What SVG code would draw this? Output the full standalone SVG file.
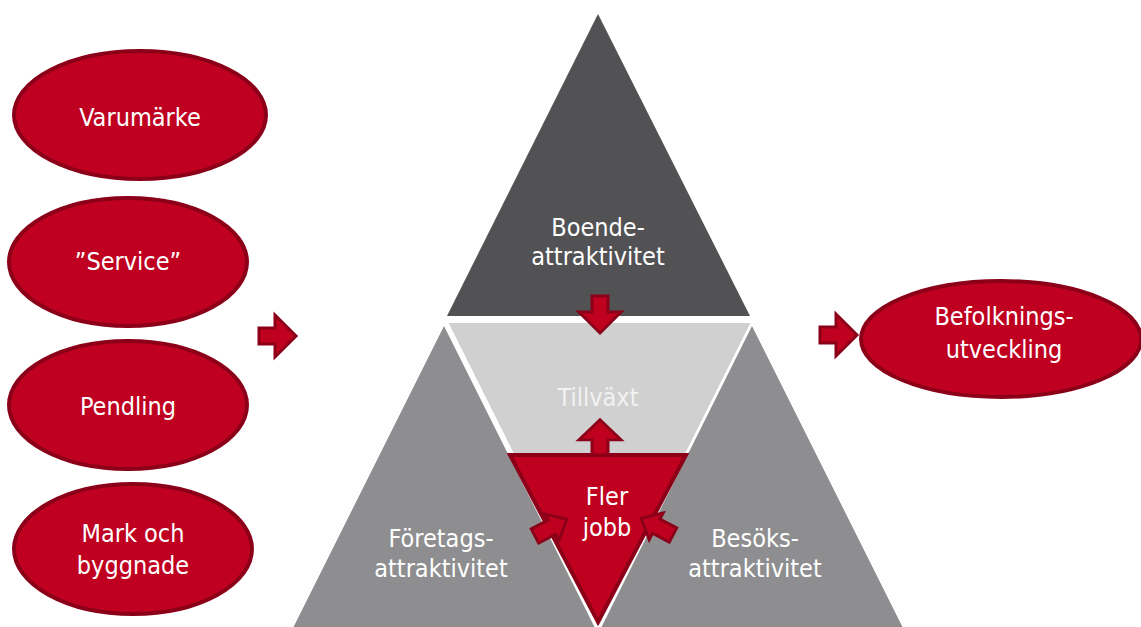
<svg xmlns="http://www.w3.org/2000/svg" width="1141" height="627" viewBox="0 0 1141 627">
<defs>
<style>
.ell{fill:#BF0020;stroke:#8B0018;stroke-width:4}
.arr{fill:#C0001F;stroke:#8B0018;stroke-width:3;stroke-linejoin:miter}
.t{font-family:"DejaVu Sans Condensed","DejaVu Sans",sans-serif;font-stretch:condensed;font-size:25px;fill:#FFFFFF;text-anchor:middle}
.tl{fill:#F2F2F2}
</style>
<path id="bigArrow" d="M0,-8 L16,-8 L16,-21 L37,0 L16,21 L16,8 L0,8 Z"/>
<path id="smallArrow" d="M0,-8 L19,-8 L19,-15 L36,0 L19,15 L19,8 L0,8 Z"/>
</defs>
<rect width="1141" height="627" fill="#FFFFFF"/>

<g id="triangles">
<polygon id="boende-tri" points="598,14 447,316 750,316" fill="#525254"/>
<polygon id="foretags-tri" points="444,326 287,640 601,640" fill="#8E8E90"/>
<polygon id="besoks-tri" points="752,326 595,640 909,640" fill="#8E8E90"/>
<polygon id="tillvaxt-tri" points="447,322 752,322 599.5,627" fill="#D0D0D0" stroke="#FFFFFF" stroke-width="2"/>
</g>

<g id="node-boende">
<text class="t" x="598" y="236">Boende-</text>
<text class="t" x="598" y="265">attraktivitet</text>
</g>
<g id="node-tillvaxt">
<text class="t tl" x="598" y="406">Tillväxt</text>
</g>
<g id="node-foretags">
<text class="t" x="441" y="547">Företags-</text>
<text class="t" x="441" y="577">attraktivitet</text>
</g>
<g id="node-besoks">
<text class="t" x="755" y="547">Besöks-</text>
<text class="t" x="755" y="577">attraktivitet</text>
</g>
<g id="node-flerjobb">
<polygon points="510,455 686,455 598,622" fill="#C0001F" stroke="#8B0018" stroke-width="4"/>
<text class="t" x="607" y="505">Fler</text>
<text class="t" x="607" y="536">jobb</text>
</g>

<g id="node-varumarke">
<ellipse class="ell" cx="140" cy="115" rx="126" ry="64"/>
<text class="t" x="140" y="126">Varumärke</text>
</g>
<g id="node-service">
<ellipse class="ell" cx="128" cy="262" rx="119" ry="64"/>
<text class="t" x="128" y="270">”Service”</text>
</g>
<g id="node-pendling">
<ellipse class="ell" cx="128" cy="405" rx="119" ry="64"/>
<text class="t" x="128" y="415">Pendling</text>
</g>
<g id="node-mark">
<ellipse class="ell" cx="133" cy="549" rx="119" ry="65"/>
<text class="t" x="133" y="542">Mark och</text>
<text class="t" x="133" y="574">byggnade</text>
</g>
<g id="node-befolkning">
<ellipse class="ell" cx="1001" cy="339" rx="140" ry="58"/>
<text class="t" x="1004" y="325">Befolknings-</text>
<text class="t" x="1004" y="358">utveckling</text>
</g>

<g id="connectors">
<use href="#bigArrow" class="arr" transform="translate(259,336) scale(1,1)"/>
<use href="#bigArrow" class="arr" transform="translate(820,335)"/>
<use href="#bigArrow" class="arr" transform="translate(600,296) rotate(90)"/>
<use href="#bigArrow" class="arr" transform="translate(600,455) rotate(-90) scale(0.95,1)"/>
<use href="#smallArrow" class="arr" transform="translate(535,536) rotate(-27.6)"/>
<use href="#smallArrow" class="arr" transform="translate(673,535) rotate(-152.4)"/>
</g>
</svg>
